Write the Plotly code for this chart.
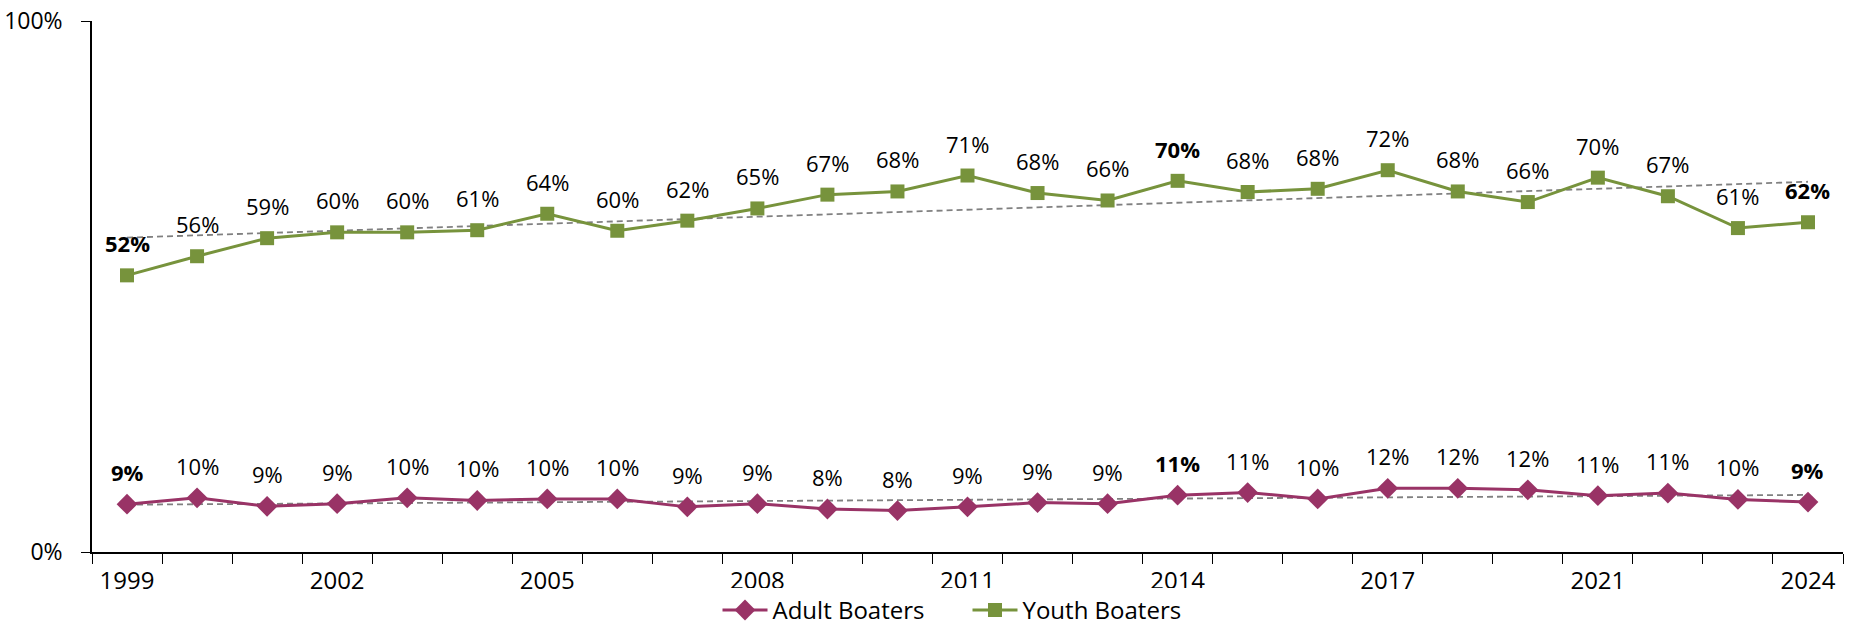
import numpy as np
import plotly.graph_objects as go

years = ["1999", "2000", "2001", "2002", "2003", "2004", "2005", "2006", "2007", "2008",
         "2009", "2010", "2011", "2012", "2013", "2014", "2015", "2016", "2017", "2018",
         "2019", "2021", "2022", "2023", "2024"]
adult = [9.0, 10.2, 8.6, 9.1, 10.2, 9.7, 10.0, 10.0, 8.5, 9.1,
         8.1, 7.8, 8.5, 9.3, 9.1, 10.7, 11.2, 10.0, 12.0, 12.0,
         11.7, 10.6, 11.1, 9.9, 9.4]
youth = [52.1, 55.7, 59.1, 60.2, 60.2, 60.6, 63.7, 60.5, 62.4, 64.7,
         67.3, 67.9, 70.9, 67.6, 66.2, 69.9, 67.8, 68.4, 71.9, 67.9,
         65.9, 70.5, 67.0, 61.0, 62.1]
adult_labels = ["9%", "10%", "9%", "9%", "10%", "10%", "10%", "10%", "9%", "9%",
                "8%", "8%", "9%", "9%", "9%", "11%", "11%", "10%", "12%", "12%",
                "12%", "11%", "11%", "10%", "9%"]
youth_labels = ["52%", "56%", "59%", "60%", "60%", "61%", "64%", "60%", "62%", "65%",
                "67%", "68%", "71%", "68%", "66%", "70%", "68%", "68%", "72%", "68%",
                "66%", "70%", "67%", "61%", "62%"]
bold_years = ["1999", "2014", "2024"]
label_years = ["1999", "2002", "2005", "2008", "2011", "2014", "2017", "2021", "2024"]

ADULT_C = "#993366"
YOUTH_C = "#77933C"
FONT = "Open Sans"

idx = np.arange(len(years))

def trend(vals):
    m, b = np.polyfit(idx, np.array(vals) / 100.0, 1)
    return [b + m * idx[0], b + m * idx[-1]]

fig = go.Figure()

fig.add_trace(go.Scatter(x=[years[0], years[-1]], y=trend(adult), mode="lines",
                         line=dict(color="#808080", width=1.8, dash="6px,4px"),
                         showlegend=False, hoverinfo="skip"))
fig.add_trace(go.Scatter(x=[years[0], years[-1]], y=trend(youth), mode="lines",
                         line=dict(color="#808080", width=1.8, dash="6px,4px"),
                         showlegend=False, hoverinfo="skip"))

fig.add_trace(go.Scatter(x=years, y=[v / 100 for v in adult], mode="lines+markers",
                         name="Adult Boaters",
                         line=dict(color=ADULT_C, width=3),
                         marker=dict(symbol="diamond", size=16, color=ADULT_C)))
fig.add_trace(go.Scatter(x=years, y=[v / 100 for v in youth], mode="lines+markers",
                         name="Youth Boaters",
                         line=dict(color=YOUTH_C, width=3),
                         marker=dict(symbol="square", size=14, color=YOUTH_C)))

annotations = []
for i, (yr, a, al, yv, yl) in enumerate(zip(years, adult, adult_labels, youth, youth_labels)):
    for v, lab in ((a, al), (yv, yl)):
        txt = f"<b>{lab}</b>" if yr in bold_years else lab
        annotations.append(dict(x=i, y=v / 100, xref="x", yref="y", text=txt,
                                showarrow=False, yshift=32, yanchor="middle",
                                xanchor="center",
                                font=dict(family=FONT, size=22, color="black")))

fig.update_layout(
    width=1854, height=632,
    margin=dict(l=92, r=11, t=21, b=80, autoexpand=False),
    paper_bgcolor="white", plot_bgcolor="white",
    font=dict(family=FONT, color="black"),
    annotations=annotations,
    showlegend=True,
    legend=dict(orientation="h", x=0.5, xanchor="center", y=-0.11, yanchor="middle",
                font=dict(family=FONT, size=24, color="black"),
                itemwidth=45, entrywidth=190, tracegroupgap=0),
    xaxis=dict(type="category", categoryorder="array", categoryarray=years,
               tickmode="array", tickvals=years,
               ticktext=[y if y in label_years else "" for y in years],
               tickson="boundaries", ticks="outside", ticklen=10, tickcolor="black",
               tickwidth=1, showline=True, linecolor="black", linewidth=1.5,
               showgrid=False, zeroline=False, range=[-0.5, len(years) - 0.5],
               tickfont=dict(family=FONT, size=24, color="black"),
               ticklabelstandoff=6, automargin=False),
    yaxis=dict(range=[0, 1], tickmode="array", tickvals=[0, 1],
               tickformat=".0%", ticks="outside", ticklen=9, tickcolor="black",
               showline=True, linecolor="black", linewidth=1.5,
               showgrid=False, zeroline=False,
               tickfont=dict(family=FONT, size=23, color="black"),
               ticklabelstandoff=14, automargin=False),
)

fig.write_html("out.html", config={"displayModeBar": False},
               post_script="document.body.style.margin='0';document.body.style.overflow='hidden';")
